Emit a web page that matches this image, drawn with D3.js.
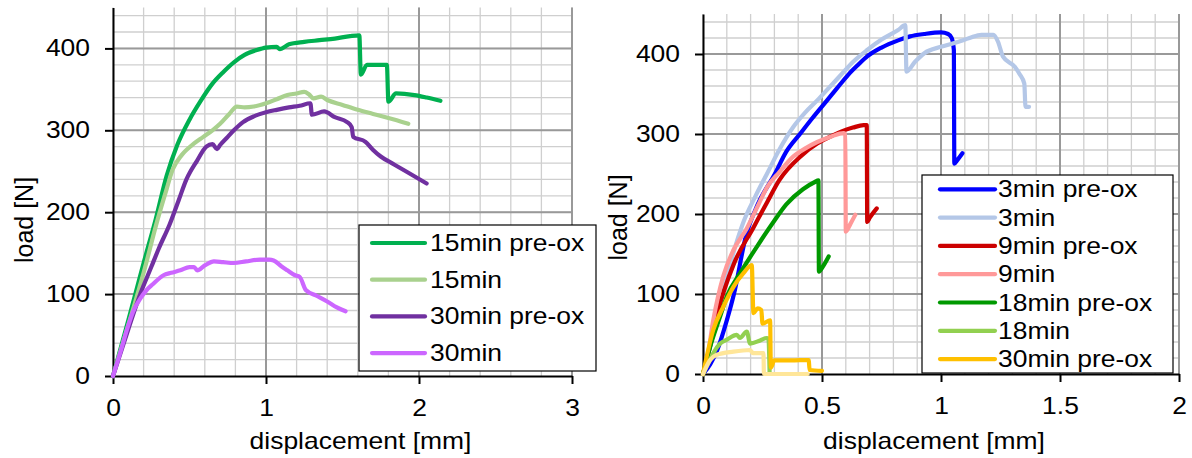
<!DOCTYPE html>
<html>
<head>
<meta charset="utf-8">
<script src="https://cdn.jsdelivr.net/npm/d3@7"></script>
<style>
  body { margin: 0; background: #fff; }
  text { font-family: "Liberation Sans", Arial, sans-serif; fill: #000; }
</style>
</head>
<body>
<script>
const w = 1192;
const h = 458;
const SX = 1.15; // the picture's text is stretched sideways
const FS = "23px";

// ---- left panel data ----
const leftXTicks = [0, 1, 2, 3];
const leftXLabels = ["0", "1", "2", "3"];
const yTicks = [0, 100, 200, 300, 400];
const yLabels = ["0", "100", "200", "300", "400"];

const min15PreX = [0,0.1,0.2,0.28,0.35,0.42,0.5,0.57,0.65,0.72,0.79,0.86,0.94,1.0,1.07,1.09,1.15,1.25,1.35,1.45,1.55,1.61,1.62,1.66,1.79,1.80,1.85,1.97,2.05,2.14];
const min15PreY = [0,68,138,192,244,282,313,335,357,371,383,392,398,401,402,399,405,408,410,412,415,416,368,380,380,335,345,343,340,336];
const min15X = [0,0.1,0.2,0.29,0.35,0.39,0.45,0.53,0.59,0.65,0.7,0.76,0.81,0.86,0.92,1.0,1.07,1.14,1.2,1.25,1.28,1.31,1.36,1.4,1.5,1.6,1.7,1.8,1.93];
const min15Y = [0,62,126,190,228,252,270,284,292,300,308,320,329,328,329,333,338,343,345,347,344,339,341,337,331,325,320,315,308];
const min30PreX = [0,0.1,0.18,0.25,0.3,0.37,0.43,0.48,0.55,0.61,0.65,0.68,0.7,0.75,0.79,0.85,0.92,1.0,1.07,1.15,1.22,1.29,1.3,1.38,1.45,1.53,1.56,1.57,1.65,1.7,1.75,1.84,1.95,2.05];
const min30PreY = [0,57,101,133,156,185,215,240,263,280,283,277,282,292,300,310,317,322,325,328,330,333,319,323,316,310,304,292,286,276,268,258,246,235];
const min30X = [0,0.05,0.09,0.13,0.18,0.22,0.26,0.33,0.38,0.44,0.5,0.53,0.55,0.6,0.66,0.72,0.79,0.87,0.96,1.02,1.05,1.1,1.14,1.19,1.22,1.26,1.33,1.4,1.46,1.52];
const min30Y = [0,30,56,78,95,105,112,123,126,129,133,133,129,135,140,139,138,140,142,142,141,134,129,123,121,105,98,91,84,79];

const leftNames = ["15min pre-ox", "15min", "30min pre-ox", "30min"];
const leftColors = ["#00B050", "#A9D18E", "#7030A0", "#CC66FF"];

// ---- right panel data ----
const rightXTicks = [0, 0.5, 1, 1.5, 2];
const rightXLabels = ["0", "0.5", "1", "1.5", "2"];

const min3PreX = [0,0.03,0.06,0.1,0.13,0.18,0.23,0.3,0.35,0.41,0.46,0.51,0.56,0.61,0.65,0.69,0.75,0.82,0.87,0.93,1.0,1.03,1.045,1.054,1.056,1.07,1.09];
const min3PreY = [0,12,30,67,100,172,212,249,278,301,320,338,356,374,386,397,408,417,422,425,427,425,420,405,263,268,276];
const min3X = [0,0.02,0.05,0.1,0.17,0.22,0.27,0.32,0.38,0.43,0.48,0.53,0.58,0.63,0.69,0.75,0.82,0.85,0.855,0.89,0.93,1.0,1.07,1.12,1.17,1.22,1.24,1.26,1.31,1.33,1.35,1.355,1.37];
const min3Y = [0,22,62,122,190,222,251,280,309,327,342,358,374,390,405,418,430,436,378,390,401,409,415,420,424,424,415,397,384,375,363,334,334];
const min9PreX = [0,0.03,0.06,0.13,0.21,0.27,0.32,0.41,0.48,0.53,0.58,0.63,0.675,0.688,0.69,0.70,0.73];
const min9PreY = [0,35,75,138,182,215,242,272,288,296,303,308,311,311,190,195,207];
const min9X = [0,0.016,0.043,0.085,0.128,0.184,0.23,0.27,0.32,0.38,0.43,0.48,0.54,0.59,0.598,0.6,0.62,0.64];
const min9Y = [0,17,67,122,155,182,210,234,252,272,282,290,297,301,300,178,188,199];
const min18PreX = [0,0.03,0.072,0.1,0.156,0.226,0.296,0.35,0.42,0.47,0.485,0.487,0.505,0.528];
const min18PreY = [0,34,72,97,126,159,190,212,231,240,242,128,135,147];
const min18X = [0,0.02,0.043,0.072,0.1,0.142,0.155,0.184,0.198,0.24,0.268,0.275,0.28];
const min18Y = [0,12,26,38,43,49,45,53,38,42,45,44,0];
const min30PreRX = [0,0.043,0.085,0.128,0.17,0.205,0.212,0.23,0.245,0.25,0.282,0.285,0.3,0.37,0.444,0.448,0.5];
const min30PreRY = [0,55,84,109,126,136,76,82,80,63,67,8,17,17,17.5,5,4];
const min30RX = [0,0.03,0.058,0.128,0.198,0.21,0.254,0.256,0.44];
const min30RY = [0,17.5,24,28,30,26,26,0,0];

const rightNames = ["3min pre-ox", "3min", "9min pre-ox", "9min", "18min pre-ox", "18min", "30min pre-ox", "30min"];
const rightColors = ["#0000FF", "#B4C7E7", "#CC0000", "#FF9999", "#009900", "#92D050", "#FFC000", "#FFE699"];

const svg = d3.select("body").append("svg").attr("width", w).attr("height", h);

function zip(xs, ys) { return xs.map((v, i) => [v, ys[i]]); }

function panel(cfg) {
  const xScale = d3.scaleLinear().domain([0, cfg.xMax]).range([cfg.left, cfg.right]);
  const yScale = d3.scaleLinear().domain([0, 450]).range([cfg.bottom, cfg.top]);
  const g = svg.append("g");

  // minor grid
  g.selectAll(".vmin").data(d3.range(0, cfg.xMax + 1e-9, cfg.xStep)).enter().append("line")
    .attr("x1", d => xScale(d)).attr("x2", d => xScale(d))
    .attr("y1", yScale(0)).attr("y2", yScale(450))
    .attr("stroke", "#cfcfcf").attr("stroke-width", 1.3);
  g.selectAll(".hmin").data(d3.range(20, 450, 20)).enter().append("line")
    .attr("x1", xScale(0)).attr("x2", xScale(cfg.xMax))
    .attr("y1", d => yScale(d)).attr("y2", d => yScale(d))
    .attr("stroke", "#cfcfcf").attr("stroke-width", 1.3);
  // major grid
  g.selectAll(".vmaj").data(cfg.xTicks.slice(1)).enter().append("line")
    .attr("x1", d => xScale(d)).attr("x2", d => xScale(d))
    .attr("y1", yScale(0)).attr("y2", yScale(450))
    .attr("stroke", "#999").attr("stroke-width", 2);
  g.selectAll(".hmaj").data(yTicks.slice(1)).enter().append("line")
    .attr("x1", xScale(0)).attr("x2", xScale(cfg.xMax))
    .attr("y1", d => yScale(d)).attr("y2", d => yScale(d))
    .attr("stroke", "#999").attr("stroke-width", 2);

  // axes
  const xAxis = d3.axisBottom(xScale).tickValues(cfg.xTicks)
    .tickFormat((d, i) => cfg.xLabels[i]).tickSize(8).tickPadding(16).tickSizeOuter(0);
  const yAxis = d3.axisLeft(yScale).tickValues(yTicks)
    .tickFormat((d, i) => yLabels[i]).tickSize(8).tickPadding(15).tickSizeOuter(0);

  const gx = g.append("g").attr("transform", "translate(0," + yScale(0) + ")").call(xAxis);
  const gy = g.append("g").attr("transform", "translate(" + xScale(0) + ",0)").call(yAxis);
  [gx, gy].forEach(a => {
    a.select(".domain").attr("stroke", "#000").attr("stroke-width", 2);
    a.selectAll(".tick line").attr("stroke", "#000").attr("stroke-width", 2);
    a.selectAll(".tick text").attr("font-size", FS).attr("font-family", null).attr("fill", "#000")
      .attr("transform", "scale(" + SX + ",1)");
  });
  gy.selectAll(".tick text").attr("x", -23 / SX);

  // series
  const line = d3.line().curve(d3.curveMonotoneX).x(d => xScale(d[0])).y(d => yScale(d[1]));
  cfg.series.forEach((s, i) => {
    g.append("path").datum(s).attr("d", line)
      .attr("fill", "none").attr("stroke", cfg.colors[i]).attr("stroke-width", 4.2)
      .attr("stroke-linejoin", "round").attr("stroke-linecap", "round");
  });

  // axis titles
  g.append("text").attr("text-anchor", "middle").style("font-size", FS)
    .attr("transform", "translate(" + cfg.xTitleX + ",449) scale(" + SX + ",1)")
    .text("displacement [mm]");
  g.append("text").attr("text-anchor", "middle").style("font-size", "25px")
    .attr("transform", "translate(" + cfg.yTitleX + "," + cfg.yTitleY + ") rotate(-90)")
    .text("load [N]");

  // legend
  const L = cfg.legend;
  g.append("rect").attr("x", L.x).attr("y", L.y).attr("width", L.w).attr("height", L.h)
    .attr("fill", "#fff").attr("stroke", "#000").attr("stroke-width", 1.2);
  cfg.names.slice(0, L.count).forEach((name, i) => {
    const cy = L.first + i * L.step;
    g.append("line").attr("x1", L.lx1).attr("x2", L.lx2).attr("y1", cy).attr("y2", cy)
      .attr("stroke", cfg.colors[i]).attr("stroke-width", 4.2).attr("stroke-linecap", "round");
    g.append("text").attr("dy", "0.35em").style("font-size", FS)
      .attr("transform", "translate(" + L.tx + "," + cy + ") scale(" + SX + ",1)")
      .text(name);
  });
}

panel({
  left: 113, right: 572, bottom: 376, top: 376 - 450 * 0.819,
  xMax: 3, xStep: 0.2, xTicks: leftXTicks, xLabels: leftXLabels,
  series: [zip(min15PreX, min15PreY), zip(min15X, min15Y), zip(min30PreX, min30PreY), zip(min30X, min30Y)],
  colors: leftColors, names: leftNames,
  xTitleX: 360.5, yTitleX: 33, yTitleY: 220,
  legend: { x: 359, y: 225, w: 237, h: 146, count: 4, first: 243, step: 36.7, lx1: 372, lx2: 425, tx: 430 }
});

panel({
  left: 703, right: 1179, bottom: 374, top: 14,
  xMax: 2, xStep: 0.1, xTicks: rightXTicks, xLabels: rightXLabels,
  series: [zip(min3PreX, min3PreY), zip(min3X, min3Y), zip(min9PreX, min9PreY), zip(min9X, min9Y),
           zip(min18PreX, min18PreY), zip(min18X, min18Y), zip(min30PreRX, min30PreRY), zip(min30RX, min30RY)],
  colors: rightColors, names: rightNames,
  xTitleX: 934, yTitleX: 627, yTitleY: 217.5,
  legend: { x: 922, y: 175, w: 251, h: 198, count: 7, first: 189.3, step: 28.3, lx1: 940, lx2: 995, tx: 998 }
});
</script>
</body>
</html>
